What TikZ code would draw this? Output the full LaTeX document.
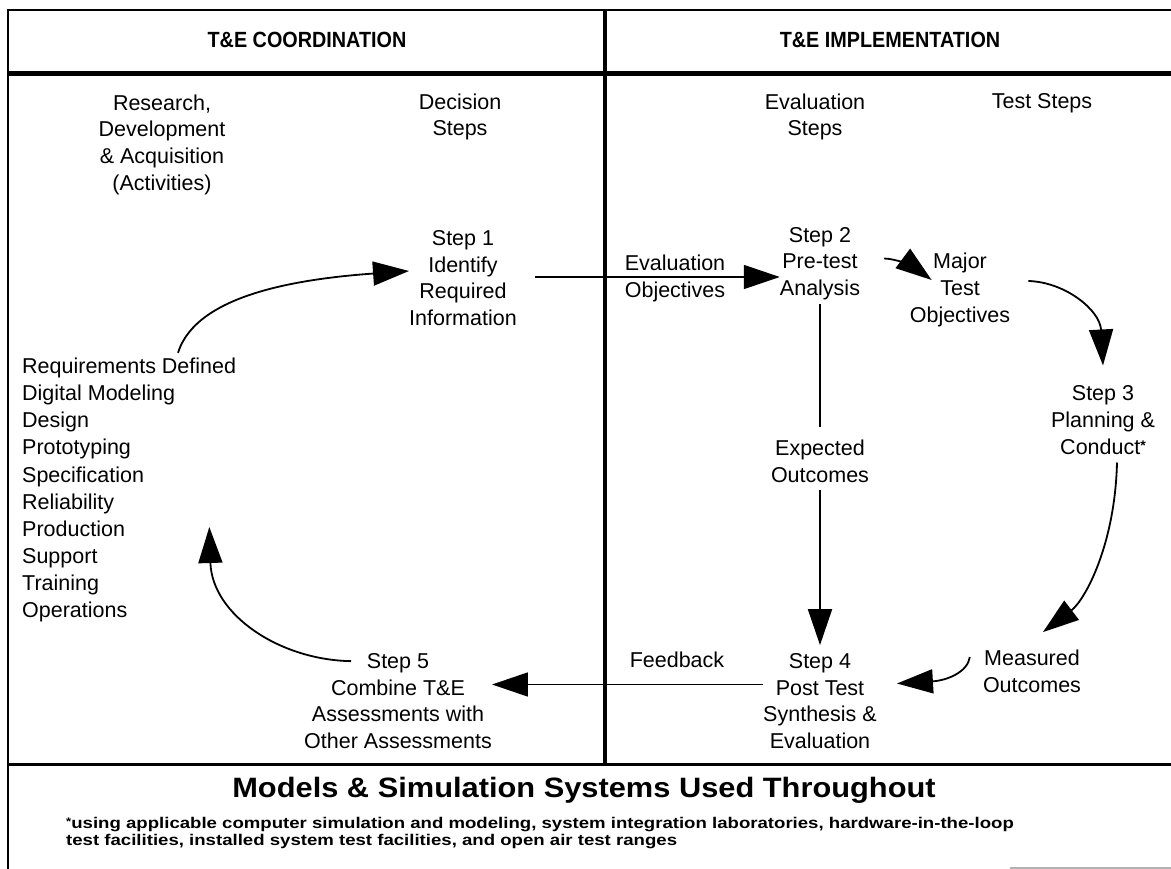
\documentclass[tikz,border=0pt]{standalone}
\usepackage{fontspec}
\setmainfont{Liberation Sans}
\newfontfamily\widefont[FakeStretch=1.2]{Liberation Sans}
\newfontfamily\modfont[FakeStretch=1.1]{Liberation Sans}
\newfontfamily\hdrfont[FakeStretch=0.9]{Liberation Sans}
\usetikzlibrary{arrows.meta,calc}
\begin{document}
\begin{tikzpicture}[x=1pt,y=-1pt,
  lbl/.style={font=\fontsize{21.5}{26.7}\selectfont, align=center, inner sep=0pt},
  hdr/.style={font=\hdrfont\fontsize{22}{24}\selectfont\bfseries, inner sep=0pt},
  arr/.style={line width=1.8pt, -{Triangle[length=36pt,width=24pt]}},
  conn/.style={line width=1.8pt},
]
\useasboundingbox (0,0) rectangle (1171,869);
% frame
\draw[line width=2.5pt] (1171,10) -- (8,10) -- (8,869);
\draw[line width=5pt] (8,74) -- (1171,74);
\draw[line width=4.5pt] (605,10) -- (605,764);
\draw[line width=3pt] (8,764) -- (1171,764);
\draw[gray!60, line width=1.5pt] (1010,868) -- (1171,868);
% headers
\node[hdr] (h1) at (307,40) {T\&E COORDINATION};
\node[hdr] (h2) at (890,40) {T\&E IMPLEMENTATION};
% column titles
\node[lbl] (rda) at (162,144.5) {Research,\\Development\\\& Acquisition\\(Activities)};
\node[lbl] (dec) at (460,117) {Decision\\Steps};
\node[lbl] (evs) at (815,117) {Evaluation\\Steps};
\node[lbl] (tst) at (1042,103) {Test Steps};
% steps
\node[lbl] (s1) at (463,278) {Step 1\\Identify\\Required\\Information};
\node[lbl] (eo) at (675,278.5) {Evaluation\\Objectives};
\node[lbl] (s2) at (820,263.5) {Step 2\\Pre-test\\Analysis};
\node[lbl] (mto) at (960,290) {Major\\Test\\Objectives};
\node[lbl] (s3) at (1103,420) {Step 3\\Planning \&\\Conduct{\fontsize{14}{14}\selectfont\bfseries\raisebox{4pt}{*}}};
\node[lbl] (exp) at (820,461.5) {Expected\\Outcomes};
\node[lbl] (mo) at (1032,671.5) {Measured\\Outcomes};
\node[lbl] (s4) at (820,701) {Step 4\\Post Test\\Synthesis \&\\Evaluation};
\node[lbl] (fb) at (677,660) {Feedback};
\node[lbl] (s5) at (398,701) {Step 5\\Combine T\&E\\Assessments with\\Other Assessments};
\node[lbl, font=\fontsize{21.5}{27.1}\selectfont, align=left, anchor=west] (act) at (22,490)
  {Requirements Defined\\Digital Modeling\\Design\\Prototyping\\Specification\\Reliability\\Production\\Support\\Training\\Operations};
% bottom
\node[font=\modfont\fontsize{28}{30}\selectfont\bfseries, inner sep=0pt] (ms) at (584,790) {Models \& Simulation Systems Used Throughout};
\node[font=\widefont\fontsize{15.5}{16.5}\selectfont\bfseries, align=left, anchor=west, inner sep=0pt] (fn) at (66,833)
  {{\fontsize{11}{11}\selectfont\raisebox{3pt}{*}}using applicable computer simulation and modeling, system integration laboratories, hardware-in-the-loop\\test facilities, installed system test facilities, and open air test ranges};
% connectors
\draw[arr] ($(act.north west)+(156,-5)$) .. controls (190,315) and (240,283) .. ([yshift=7pt]s1.west);
\coordinate (e1) at ($(s1.east)+(18,-1)$);
\draw[arr] (e1) -- (e1 -| s2.west);
\draw[arr] ($(s2.east)+(24,-5)$) .. controls +(12,0) and +(-16,-12) .. ($(mto.west)+(22,-10)$);
\draw[arr] ($(mto.east)+(18,-9)$) .. controls (1065,282) and (1100,310) .. ($(s3.north)+(0,-20)$);
\draw[arr] ($(s3.south)+(14,8)$) .. controls (1115,545) and (1085,600) .. ($(mo.north)+(11,-18)$);
\draw[arr] ($(mo.west)+(-13,-14.5)$) .. controls +(-2,15) and +(50,-3) .. ($(s4.east)+(20,-17.5)$);
\draw[conn] ($(s2.south)+(0,4)$) -- ($(exp.north)+(0,-13)$);
\draw[arr] ($(exp.south)+(0,7)$) -- ($(s4.north)+(0,-8)$);
\coordinate (f1) at ($(s4.west)+(0,-16.5)$);
\draw[arr] (f1) -- (f1 -| s5.east);
\draw[arr] ($(s5.north)+(-47,8)$) .. controls (280,660) and (212,615) .. ($(act.east)+(-27,37)$);
\end{tikzpicture}
\end{document}
